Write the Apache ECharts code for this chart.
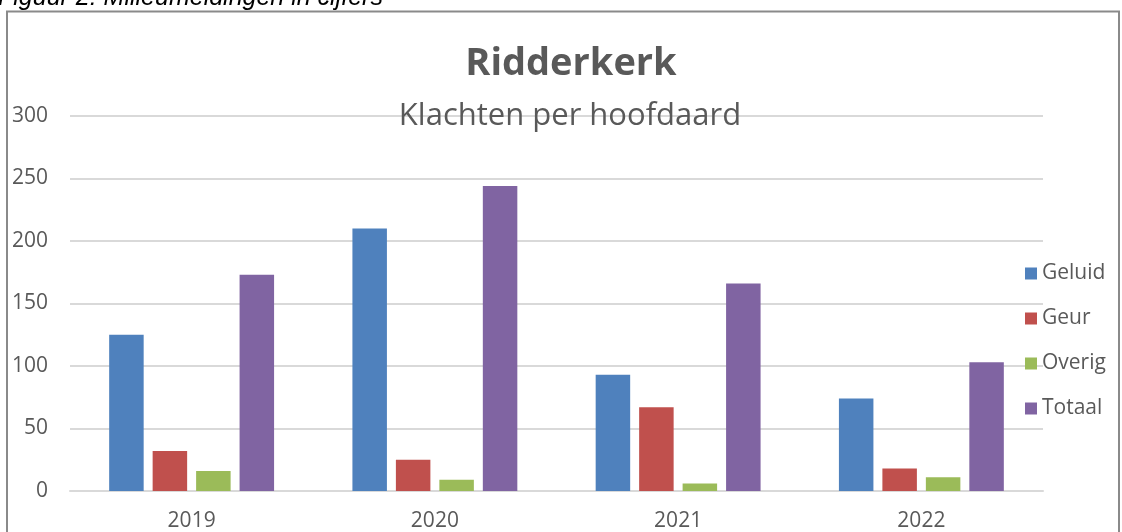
<!DOCTYPE html>
<html>
<head>
    <meta charset="utf-8">
    <title>Ridderkerk - Klachten per hoofdaard</title>
    <script src="https://cdn.jsdelivr.net/npm/echarts@6/dist/echarts.min.js"></script>
    <style>
        html, body { margin: 0; padding: 0; background: #fff; }
        #chart { width: 1122px; height: 532px; }
    </style>
</head>
<body>
    <div id="chart"></div>

    <script>
    // data
    const years = ["2019", "2020", "2021", "2022"];
    const geluid = [125, 210, 93, 74];
    const geur = [32, 25, 67, 18];
    const overig = [16, 9, 6, 11];
    const totaal = [173, 244, 166, 103];

    const seriesNames = ["Geluid", "Geur", "Overig", "Totaal"];
    const seriesData = [geluid, geur, overig, totaal];
    const seriesColors = ["#4F81BD", "#C0504D", "#9BBB59", "#8064A2"];

    const textGray = "#595959";
    const font = "'Open Sans', 'Noto Sans', sans-serif";

    const option = {
        animation: false,
        textStyle: { fontFamily: font },
        grid: { left: 70, right: 79, top: 116, bottom: 41 },
        graphic: [
            {
                type: "rect",
                shape: { x: 7, y: 11.5, width: 1112, height: 600 },
                style: { fill: null, stroke: "#8a8a8a", lineWidth: 2 },
                silent: true
            },
            {
                type: "text",
                style: {
                    text: "Figuur 2: Milieumeldingen in cijfers",
                    x: -2, y: -2,
                    font: "italic 25px 'Liberation Sans', Arial, sans-serif",
                    fill: "#000",
                    align: "left", verticalAlign: "middle"
                }
            },
            {
                type: "text",
                style: {
                    text: "Ridderkerk",
                    x: 571, y: 64,
                    font: "bold 38px " + font,
                    fill: textGray,
                    align: "center", verticalAlign: "middle"
                }
            },
            {
                type: "text",
                z: 10,
                style: {
                    text: "Klachten per hoofdaard",
                    x: 570, y: 116,
                    font: "31px " + font,
                    fill: textGray,
                    align: "center", verticalAlign: "middle"
                }
            }
        ],
        legend: {
            orient: "vertical",
            left: 1020,
            top: 258,
            itemWidth: 12,
            itemHeight: 12,
            itemGap: 24,
            icon: "rect",
            textStyle: { color: textGray, fontSize: 21, fontFamily: font },
            data: seriesNames
        },
        xAxis: {
            type: "category",
            data: years,
            axisLine: { show: true, lineStyle: { color: "#d9d9d9", width: 2 } },
            axisTick: { show: false },
            axisLabel: { color: textGray, fontSize: 21, margin: 20 }
        },
        yAxis: {
            type: "value",
            min: 0,
            max: 300,
            interval: 50,
            axisLine: { show: false },
            axisTick: { show: false },
            axisLabel: { color: textGray, fontSize: 21, margin: 22 },
            splitLine: { lineStyle: { color: "#d9d9d9", width: 2 } }
        },
        series: seriesNames.map(function (name, i) {
            return {
                name: name,
                type: "bar",
                data: seriesData[i],
                barWidth: 34.5,
                barGap: "26%",
                itemStyle: { color: seriesColors[i] }
            };
        })
    };

    const chart = echarts.init(document.getElementById("chart"));
    chart.setOption(option);
    </script>
</body>
</html>
